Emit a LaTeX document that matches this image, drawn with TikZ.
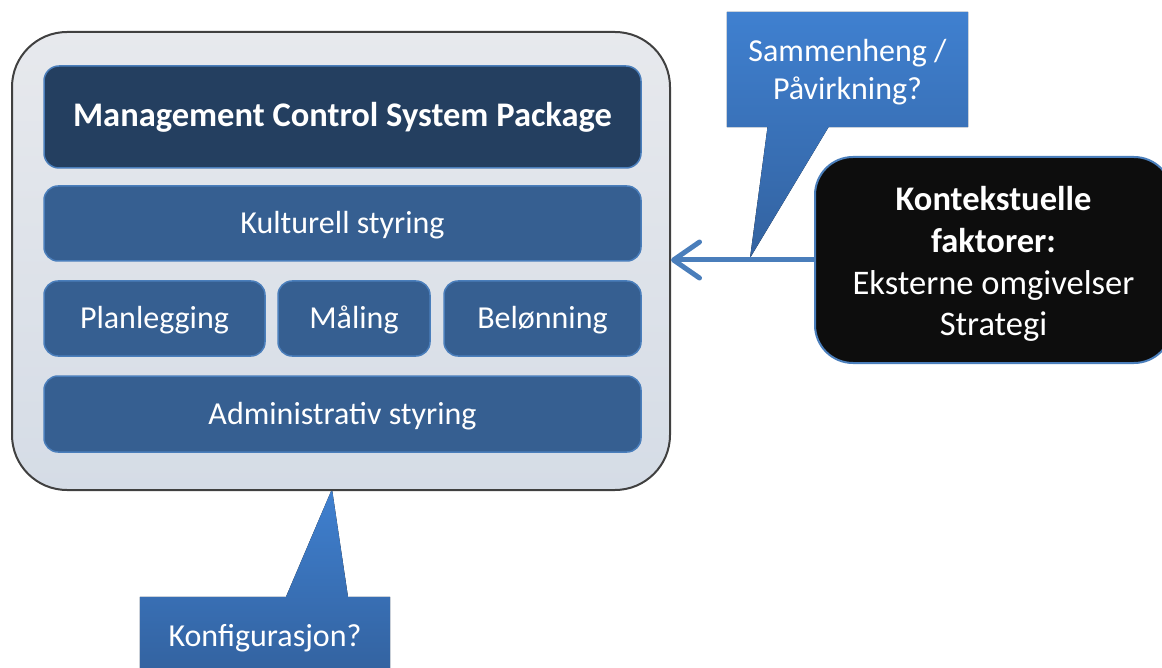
\documentclass[tikz,border=0pt]{standalone}
\usepackage{fontspec}
\setmainfont{Carlito}
\usetikzlibrary{arrows.meta,shadows}
\pgfdeclarelayer{background}
\pgfsetlayers{background,main}
\definecolor{outerfill1}{HTML}{E7E9ED}
\definecolor{outerfill2}{HTML}{D5DCE6}
\definecolor{outerline}{HTML}{404040}
\definecolor{navy}{HTML}{243F60}
\definecolor{midblue}{HTML}{365F91}
\definecolor{edgeblue}{HTML}{4A7EBB}
\definecolor{calltop}{HTML}{3F80D0}
\definecolor{callbot}{HTML}{33629F}
\definecolor{nearblack}{HTML}{0D0D0D}
\begin{document}
\begin{tikzpicture}[x=1pt,y=-1pt,
  outerbox/.style={draw=outerline, line width=2pt, rounded corners=55pt,
    top color=outerfill1, bottom color=outerfill2, inner sep=0pt},
  titlebox/.style={draw=edgeblue, line width=1.5pt, fill=navy, rounded corners=15pt,
    inner sep=0pt, text=white, text height=20pt, text depth=0pt,
    font=\fontsize{34.5}{41}\selectfont\bfseries},
  subbox/.style={draw=edgeblue, line width=1.5pt, fill=midblue, rounded corners=14pt,
    inner sep=0pt, text=white, text height=21pt, text depth=0pt,
    font=\fontsize{32}{38}\selectfont},
  ctxbox/.style={draw=edgeblue, line width=2pt, fill=nearblack, rounded corners=38pt,
    inner sep=0pt, text=white, align=center, text height=151.4pt, text depth=0pt,
    font=\fontsize{34.5}{41.7}\selectfont},
  calltext/.style={inner sep=0pt, text=white, align=center,
    font=\fontsize{32}{38.3}\selectfont},
  callshape/.style={top color=calltop, bottom color=callbot, draw=none},
  conn/.style={draw=edgeblue, line width=5pt,
    -{Straight Barb[length=26pt,width=36pt,round]}}
]
\useasboundingbox (0,0) rectangle (1162,668);

% outer container
\node[outerbox, minimum width=658pt, minimum height=458pt] (outer) at (341,261) {};

% inner boxes
\node[titlebox, minimum width=597pt, minimum height=102pt] (title) at (342.5,117) {Management Control System Package};
\node[subbox, minimum width=597pt, minimum height=75pt] (kult) at (342.5,223.5) {Kulturell styring};
\node[subbox, minimum width=221pt, minimum height=75pt] (plan) at (154.5,318.5) {Planlegging};
\node[subbox, minimum width=152pt, minimum height=75pt] (maal) at (354,318.5) {Måling};
\node[subbox, minimum width=197pt, minimum height=75pt] (belo) at (542.5,318.5) {Belønning};
\node[subbox, minimum width=597pt, minimum height=76pt] (admin) at (342.5,414) {Administrativ styring};

% context box
\node[ctxbox, minimum width=357pt, minimum height=206pt] (ctx) at (993.5,260)
  {\textbf{Kontekstuelle}\\\textbf{faktorer:}\\Eksterne omgivelser\\Strategi};

% arrow
\draw[conn] (ctx.west) -- (ctx.west -| outer.east);

% top callout
\node[calltext, text height=61pt, text depth=0pt, minimum width=241pt, minimum height=115pt]
  (sam) at (847.5,69.5) {Sammenheng /\\Påvirkning?};
\coordinate (tip1) at (750,258);
\begin{pgfonlayer}{background}
\fill[callshape] (sam.north west) -- (sam.north east) -- (sam.south east)
  -- ([xshift=-19pt]sam.south) -- (tip1) -- ([xshift=-80pt]sam.south)
  -- (sam.south west) -- cycle;
\end{pgfonlayer}

% bottom callout
\node[calltext, text height=21.4pt, text depth=0pt, minimum width=250pt, minimum height=78pt]
  (konf) at (265,636) {Konfigurasjon?};
\coordinate (tip2) at (332,489);
\begin{pgfonlayer}{background}
\fill[callshape] (konf.north west) -- ([xshift=21pt]konf.north) -- (tip2)
  -- ([xshift=83pt]konf.north) -- (konf.north east) -- (konf.south east)
  -- (konf.south west) -- cycle;
\end{pgfonlayer}
\end{tikzpicture}
\end{document}
